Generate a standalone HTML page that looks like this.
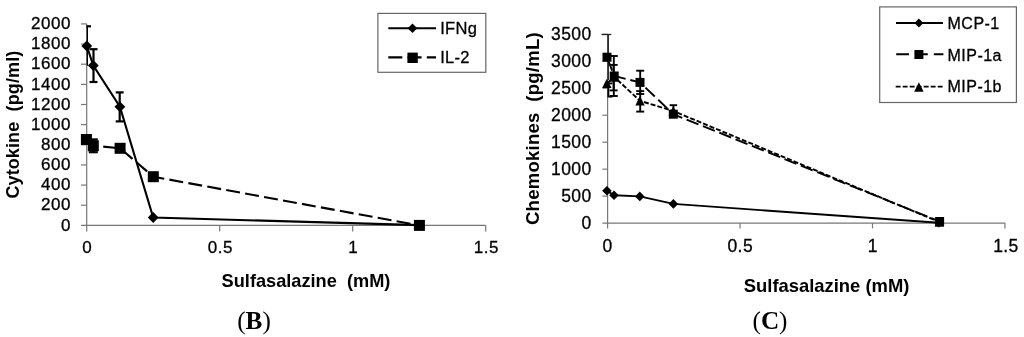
<!DOCTYPE html>
<html><head><meta charset="utf-8"><title>Sulfasalazine cytokine and chemokine charts</title>
<style>
html,body{margin:0;padding:0;background:#fff;width:1024px;height:337px;overflow:hidden}
svg{display:block}
.ts{font-family:"Liberation Sans",Arial,Helvetica,sans-serif}
.tr{font-family:"Liberation Serif","Times New Roman",serif}
.sk{stroke:#000;stroke-width:0.3;paint-order:stroke}
</style></head>
<body>
<svg width="1024" height="337" viewBox="0 0 1024 337">
<rect width="1024" height="337" fill="#fff"/>
<g stroke="#777" stroke-width="1.2" fill="none">
<line x1="86.7" y1="23.9" x2="86.7" y2="231.5"/>
<line x1="81" y1="225.4" x2="485.7" y2="225.4"/>
<line x1="81" y1="205.25" x2="86.7" y2="205.25"/>
<line x1="81" y1="185.1" x2="86.7" y2="185.1"/>
<line x1="81" y1="164.95" x2="86.7" y2="164.95"/>
<line x1="81" y1="144.8" x2="86.7" y2="144.8"/>
<line x1="81" y1="124.65" x2="86.7" y2="124.65"/>
<line x1="81" y1="104.5" x2="86.7" y2="104.5"/>
<line x1="81" y1="84.35" x2="86.7" y2="84.35"/>
<line x1="81" y1="64.2" x2="86.7" y2="64.2"/>
<line x1="81" y1="44.05" x2="86.7" y2="44.05"/>
<line x1="81" y1="23.9" x2="86.7" y2="23.9"/>
<line x1="219.7" y1="225.4" x2="219.7" y2="231.5"/>
<line x1="352.7" y1="225.4" x2="352.7" y2="231.5"/>
<line x1="485.7" y1="225.4" x2="485.7" y2="231.5"/>
</g>
<g class="ts sk" font-size="17" letter-spacing="0.55" text-anchor="end" fill="#000">
<text x="71" y="230.6">0</text>
<text x="71" y="210.45">200</text>
<text x="71" y="190.3">400</text>
<text x="71" y="170.15">600</text>
<text x="71" y="150">800</text>
<text x="71" y="129.85">1000</text>
<text x="71" y="109.7">1200</text>
<text x="71" y="89.55">1400</text>
<text x="71" y="69.4">1600</text>
<text x="71" y="49.25">1800</text>
<text x="71" y="29.1">2000</text>
</g>
<g class="ts sk" font-size="17" letter-spacing="0.55" text-anchor="middle" fill="#000">
<text x="87.3" y="253.3">0</text>
<text x="220.3" y="253.3">0.5</text>
<text x="353.3" y="253.3">1</text>
<text x="486.3" y="253.3">1.5</text>
</g>
<text x="306" y="286.8" class="ts" font-size="18.2" font-weight="bold" text-anchor="middle" xml:space="preserve">Sulfasalazine  (mM)</text>
<text transform="translate(19,124.6) rotate(-90)" class="ts" font-size="18" letter-spacing="0.12" font-weight="bold" text-anchor="middle" xml:space="preserve">Cytokine  (pg/ml)</text>
<g stroke="#000" stroke-width="2.2" fill="none">
<line x1="87.35" y1="26.3" x2="87.35" y2="65.8" stroke-width="1.3"/><line x1="86.3" y1="26.3" x2="91" y2="26.3"/>
<line x1="93.5" y1="49.2" x2="93.5" y2="82"/><line x1="89.5" y1="49.2" x2="97.5" y2="49.2"/><line x1="89.5" y1="82" x2="97.5" y2="82"/>
<line x1="119.7" y1="92.4" x2="119.7" y2="121.4"/><line x1="115.7" y1="92.4" x2="123.7" y2="92.4"/><line x1="115.7" y1="121.4" x2="123.7" y2="121.4"/>
<line x1="93.3" y1="139.4" x2="93.3" y2="152.2"/><line x1="88.8" y1="139.4" x2="97.8" y2="139.4"/><line x1="88.8" y1="152.2" x2="97.8" y2="152.2"/>
</g>
<polyline points="86.4,139.5 93.3,145.7 120.1,148.3 153.3,176.7 419.4,225.4" fill="none" stroke="#000" stroke-width="2.1" stroke-dasharray="14 5.25"/>
<polyline points="86.8,46 93.3,65.5 119.9,106.8 153.2,217.5 419.3,225.1" fill="none" stroke="#000" stroke-width="2.1"/>
<g fill="#000">
<path d="M86.8 40.6L92.2 46L86.8 51.4L81.4 46Z"/>
<path d="M93.3 60.1L98.7 65.5L93.3 70.9L87.9 65.5Z"/>
<path d="M119.9 101.4L125.3 106.8L119.9 112.2L114.5 106.8Z"/>
<path d="M153.2 212.1L158.6 217.5L153.2 222.9L147.8 217.5Z"/>
<rect x="80.9" y="134" width="11" height="11"/>
<rect x="87.8" y="140.2" width="11" height="11"/>
<rect x="114.6" y="142.8" width="11" height="11"/>
<rect x="147.8" y="171.2" width="11" height="11"/>
<rect x="413.9" y="219.9" width="11" height="11"/>
</g>
<rect x="377.9" y="13.4" width="107.9" height="58.9" fill="none" stroke="#666" stroke-width="1.2"/>
<line x1="388.3" y1="28.3" x2="436" y2="28.3" stroke="#000" stroke-width="2.1"/>
<path d="M412.5 23.5L417.3 28.3L412.5 33.1L407.7 28.3Z"/>
<line x1="388.3" y1="57.4" x2="436" y2="57.4" stroke="#000" stroke-width="2.1" stroke-dasharray="14 5.25"/>
<rect x="407.4" y="52.6" width="10.4" height="10.4"/>
<g class="ts sk" font-size="16.5" letter-spacing="0.3" fill="#000">
<text x="440.2" y="33.5">IFNg</text>
<text x="440.2" y="62.9">IL-2</text>
</g>
<text x="254" y="328.7" class="tr" font-size="25.2" text-anchor="middle">(<tspan font-weight="bold">B</tspan>)</text>
<g stroke="#777" stroke-width="1.2" fill="none">
<line x1="607.6" y1="34.31" x2="607.6" y2="228.4"/>
<line x1="602.4" y1="223.1" x2="1004.95" y2="223.1"/>
<line x1="602.4" y1="196.13" x2="607.6" y2="196.13"/>
<line x1="602.4" y1="169.16" x2="607.6" y2="169.16"/>
<line x1="602.4" y1="142.19" x2="607.6" y2="142.19"/>
<line x1="602.4" y1="115.22" x2="607.6" y2="115.22"/>
<line x1="602.4" y1="88.25" x2="607.6" y2="88.25"/>
<line x1="602.4" y1="61.28" x2="607.6" y2="61.28"/>
<line x1="602.4" y1="34.31" x2="607.6" y2="34.31"/>
<line x1="740.05" y1="223.1" x2="740.05" y2="228.4"/>
<line x1="872.5" y1="223.1" x2="872.5" y2="228.4"/>
<line x1="1004.95" y1="223.1" x2="1004.95" y2="228.4"/>
</g>
<g class="ts sk" font-size="17.5" letter-spacing="0.4" text-anchor="end" fill="#000">
<text x="591.6" y="228.8">0</text>
<text x="591.6" y="201.83">500</text>
<text x="591.6" y="174.86">1000</text>
<text x="591.6" y="147.89">1500</text>
<text x="591.6" y="120.92">2000</text>
<text x="591.6" y="93.95">2500</text>
<text x="591.6" y="66.98">3000</text>
<text x="591.6" y="40.01">3500</text>
</g>
<g class="ts sk" font-size="17.5" letter-spacing="0.4" text-anchor="middle" fill="#000">
<text x="607.6" y="251.8">0</text>
<text x="740.25" y="251.8">0.5</text>
<text x="872.8" y="251.8">1</text>
<text x="1005.95" y="251.8">1.5</text>
</g>
<text x="826.6" y="292" class="ts" font-size="18.4" font-weight="bold" text-anchor="middle" xml:space="preserve">Sulfasalazine (mM)</text>
<text transform="translate(539,128.6) rotate(-90)" class="ts" font-size="18.6" letter-spacing="0.2" font-weight="bold" text-anchor="middle" xml:space="preserve">Chemokines  (pg/mL)</text>
<g stroke="#000" stroke-width="1.9" fill="none">
<line x1="608.2" y1="34.4" x2="608.2" y2="80" stroke-width="1.2"/><line x1="601.5" y1="34.5" x2="611.3" y2="34.5" stroke-width="1.3" stroke="#222"/>
<line x1="613.8" y1="56" x2="613.8" y2="96"/><line x1="609.8" y1="56" x2="617.8" y2="56"/><line x1="609.8" y1="96" x2="617.8" y2="96"/>
<line x1="613.6" y1="64.9" x2="613.6" y2="90.4"/><line x1="609.6" y1="64.9" x2="617.6" y2="64.9"/><line x1="609.6" y1="90.4" x2="617.6" y2="90.4"/>
<line x1="608.4" y1="83.4" x2="608.4" y2="96.6"/><line x1="607.6" y1="83.4" x2="612.4" y2="83.4"/><line x1="607.6" y1="96.6" x2="612.4" y2="96.6"/>
<line x1="640.2" y1="70.7" x2="640.2" y2="94"/><line x1="636.2" y1="70.7" x2="644.2" y2="70.7"/><line x1="636.2" y1="94" x2="644.2" y2="94"/>
<line x1="640.2" y1="91.1" x2="640.2" y2="111.6"/><line x1="636.2" y1="91.1" x2="644.2" y2="91.1"/><line x1="636.2" y1="111.6" x2="644.2" y2="111.6"/>
<line x1="673.4" y1="105.2" x2="673.4" y2="116.8"/><line x1="669.65" y1="105.2" x2="677.15" y2="105.2"/><line x1="669.65" y1="116.8" x2="677.15" y2="116.8"/>
</g>
<polyline points="606.8,83.4 614.3,77 640,100.8 673.3,111 939.4,222" fill="none" stroke="#000" stroke-width="1.9" stroke-dasharray="5 2"/>
<polyline points="607,57.2 614.2,76 640,82.4 673.3,114.2 939.6,221.5" fill="none" stroke="#000" stroke-width="1.9" stroke-dasharray="12.8 4.8" stroke-dashoffset="-1.5"/>
<polyline points="606.9,190.7 614,195.2 639.8,196.4 673.4,203.9 938.8,222.8" fill="none" stroke="#000" stroke-width="1.9"/>
<g fill="#000">
<path d="M606.8 78.7L611.5 88.1L602.1 88.1Z"/>
<path d="M614.3 72.3L619 81.7L609.6 81.7Z"/>
<path d="M640 96.1L644.7 105.5L635.3 105.5Z"/>
<path d="M673.3 106.3L678 115.7L668.6 115.7Z"/>
<path d="M939.4 217.3L944.1 226.7L934.7 226.7Z"/>
<rect x="602.5" y="52.7" width="9" height="9"/>
<rect x="609.7" y="71.5" width="9" height="9"/>
<rect x="635.5" y="77.9" width="9" height="9"/>
<rect x="668.8" y="109.7" width="9" height="9"/>
<rect x="935.1" y="217" width="9" height="9"/>
<path d="M606.9 185.9L611.7 190.7L606.9 195.5L602.1 190.7Z"/>
<path d="M614 190.4L618.8 195.2L614 200L609.2 195.2Z"/>
<path d="M639.8 191.6L644.6 196.4L639.8 201.2L635 196.4Z"/>
<path d="M673.4 199.1L678.2 203.9L673.4 208.7L668.6 203.9Z"/>
<path d="M938.8 218L943.6 222.8L938.8 227.6L934 222.8Z"/>
</g>
<rect x="879.7" y="6.9" width="136.7" height="95.6" fill="none" stroke="#666" stroke-width="1.2"/>
<line x1="896" y1="23" x2="943" y2="23" stroke="#000" stroke-width="1.9"/>
<path d="M918.9 18.6L923.3 23L918.9 27.4L914.5 23Z"/>
<line x1="896.2" y1="54.3" x2="943.4" y2="54.3" stroke="#000" stroke-width="1.9" stroke-dasharray="12.8 6"/>
<rect x="914.4" y="50" width="9" height="9"/>
<line x1="895.7" y1="86.6" x2="943" y2="86.6" stroke="#000" stroke-width="1.9" stroke-dasharray="4.9 2.1"/>
<path d="M918.9 82.35L923.6 91.75L914.2 91.75Z"/>
<g class="ts sk" font-size="16" letter-spacing="0.45" fill="#000">
<text x="947.6" y="29">MCP-1</text>
<text x="947.6" y="60.5">MIP-1a</text>
<text x="947.6" y="91.8">MIP-1b</text>
</g>
<text x="770" y="329.1" class="tr" font-size="25.2" text-anchor="middle">(<tspan font-weight="bold">C</tspan>)</text>
</svg>
</body></html>
